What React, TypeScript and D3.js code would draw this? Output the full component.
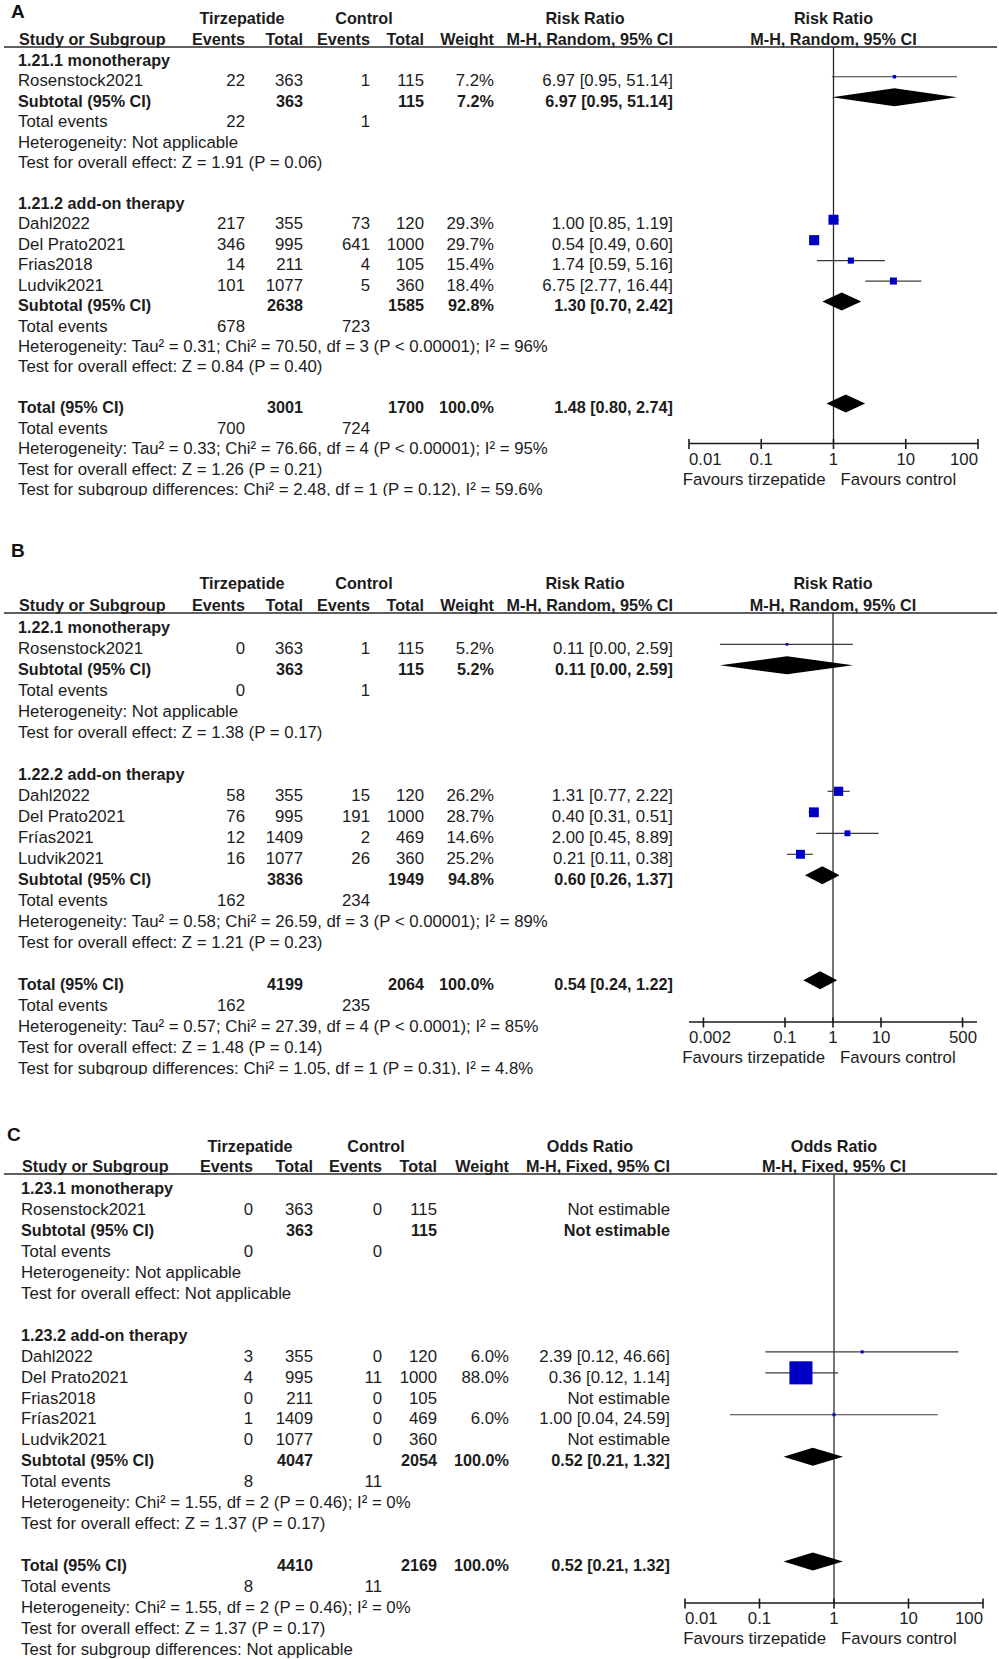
import React from "react";
import * as d3 from "d3";

// ================= Panel A : Risk Ratio, M-H Random =================
const studiesA = ["Rosenstock2021", "Dahl2022", "Del Prato2021", "Frias2018", "Ludvik2021"];
const groupOfA = [0, 1, 1, 1, 1];
const eventsTirzA = [22, 217, 346, 14, 101];
const totalTirzA = [363, 355, 995, 211, 1077];
const eventsCtrlA = [1, 73, 641, 4, 5];
const totalCtrlA = [115, 120, 1000, 105, 360];
const weightA = [7.2, 29.3, 29.7, 15.4, 18.4];
const estA = [6.97, 1.0, 0.54, 1.74, 6.75];
const lowA = [0.95, 0.85, 0.49, 0.59, 2.77];
const highA = [51.14, 1.19, 0.6, 5.16, 16.44];
const groupsA = ["1.21.1 monotherapy", "1.21.2 add-on therapy"];
const subTotalTirzA = [363, 2638];
const subTotalCtrlA = [115, 1585];
const subWeightA = [7.2, 92.8];
const subEstA = [6.97, 1.3];
const subLowA = [0.95, 0.7];
const subHighA = [51.14, 2.42];
const subEventsTirzA = [22, 678];
const subEventsCtrlA = [1, 723];
const subHetA = [
  "Heterogeneity: Not applicable",
  "Heterogeneity: Tau² = 0.31; Chi² = 70.50, df = 3 (P < 0.00001); I² = 96%",
];
const subTestA = ["Test for overall effect: Z = 1.91 (P = 0.06)", "Test for overall effect: Z = 0.84 (P = 0.40)"];
const totalNA = [3001, 1700];
const totalEventsA = [700, 724];
const totalEffA = [1.48, 0.8, 2.74];
const totalTextA = [
  "Heterogeneity: Tau² = 0.33; Chi² = 76.66, df = 4 (P < 0.00001); I² = 95%",
  "Test for overall effect: Z = 1.26 (P = 0.21)",
  "Test for subgroup differences: Chi² = 2.48, df = 1 (P = 0.12), I² = 59.6%",
];
const ticksA = [0.01, 0.1, 1, 10, 100];
const tickLabelsA = ["0.01", "0.1", "1", "10", "100"];

// ================= Panel B : Risk Ratio, M-H Random =================
const studiesB = ["Rosenstock2021", "Dahl2022", "Del Prato2021", "Frías2021", "Ludvik2021"];
const groupOfB = [0, 1, 1, 1, 1];
const eventsTirzB = [0, 58, 76, 12, 16];
const totalTirzB = [363, 355, 995, 1409, 1077];
const eventsCtrlB = [1, 15, 191, 2, 26];
const totalCtrlB = [115, 120, 1000, 469, 360];
const weightB = [5.2, 26.2, 28.7, 14.6, 25.2];
const estB = [0.11, 1.31, 0.4, 2.0, 0.21];
const lowB = [0.0044, 0.77, 0.31, 0.45, 0.11];
const highB = [2.59, 2.22, 0.51, 8.89, 0.38];
const groupsB = ["1.22.1 monotherapy", "1.22.2 add-on therapy"];
const subTotalTirzB = [363, 3836];
const subTotalCtrlB = [115, 1949];
const subWeightB = [5.2, 94.8];
const subEstB = [0.11, 0.6];
const subLowB = [0.0044, 0.26];
const subHighB = [2.59, 1.37];
const subEventsTirzB = [0, 162];
const subEventsCtrlB = [1, 234];
const subHetB = [
  "Heterogeneity: Not applicable",
  "Heterogeneity: Tau² = 0.58; Chi² = 26.59, df = 3 (P < 0.00001); I² = 89%",
];
const subTestB = ["Test for overall effect: Z = 1.38 (P = 0.17)", "Test for overall effect: Z = 1.21 (P = 0.23)"];
const totalNB = [4199, 2064];
const totalEventsB = [162, 235];
const totalEffB = [0.54, 0.24, 1.22];
const totalTextB = [
  "Heterogeneity: Tau² = 0.57; Chi² = 27.39, df = 4 (P < 0.0001); I² = 85%",
  "Test for overall effect: Z = 1.48 (P = 0.14)",
  "Test for subgroup differences: Chi² = 1.05, df = 1 (P = 0.31), I² = 4.8%",
];
const ticksB = [0.002, 0.1, 1, 10, 500];
const tickLabelsB = ["0.002", "0.1", "1", "10", "500"];

// ================= Panel C : Odds Ratio, M-H Fixed =================
const studiesC = ["Rosenstock2021", "Dahl2022", "Del Prato2021", "Frias2018", "Frías2021", "Ludvik2021"];
const groupOfC = [0, 1, 1, 1, 1, 1];
const eventsTirzC = [0, 3, 4, 0, 1, 0];
const totalTirzC = [363, 355, 995, 211, 1409, 1077];
const eventsCtrlC = [0, 0, 11, 0, 0, 0];
const totalCtrlC = [115, 120, 1000, 105, 469, 360];
const weightC = [null, 6.0, 88.0, null, 6.0, null];
const estC = [null, 2.39, 0.36, null, 1.0, null];
const lowC = [null, 0.12, 0.12, null, 0.04, null];
const highC = [null, 46.66, 1.14, null, 24.59, null];
const groupsC = ["1.23.1 monotherapy", "1.23.2 add-on therapy"];
const subTotalTirzC = [363, 4047];
const subTotalCtrlC = [115, 2054];
const subWeightC = [null, 100.0];
const subEstC = [null, 0.52];
const subLowC = [null, 0.21];
const subHighC = [null, 1.32];
const subEventsTirzC = [0, 8];
const subEventsCtrlC = [0, 11];
const subHetC = ["Heterogeneity: Not applicable", "Heterogeneity: Chi² = 1.55, df = 2 (P = 0.46); I² = 0%"];
const subTestC = ["Test for overall effect: Not applicable", "Test for overall effect: Z = 1.37 (P = 0.17)"];
const totalNC = [4410, 2169];
const totalEventsC = [8, 11];
const totalEffC = [0.52, 0.21, 1.32];
const totalTextC = [
  "Heterogeneity: Chi² = 1.55, df = 2 (P = 0.46); I² = 0%",
  "Test for overall effect: Z = 1.37 (P = 0.17)",
  "Test for subgroup differences: Not applicable",
];
const ticksC = [0.01, 0.1, 1, 10, 100];
const tickLabelsC = ["0.01", "0.1", "1", "10", "100"];

// ================= rendering =================
const FONT = "'Liberation Sans', Arial, Helvetica, sans-serif";
const REG = 16.8;
const BOLD = 16.2;
const TXT = "#1c1c1c";
const BLUE = "#0000c4";

type Row =
  | { k: "group"; text: string }
  | { k: "study"; name: string; evT: number; nT: number; evC: number; nC: number; w: number | null; est: number | null; lo: number | null; hi: number | null }
  | { k: "sub"; label: string; nT: number; nC: number; w: number | null; est: number | null; lo: number | null; hi: number | null }
  | { k: "events"; evT: number; evC: number }
  | { k: "text"; text: string }
  | { k: "blank" };

function buildRows(d: any): Row[] {
  const rows: Row[] = [];
  d.groups.forEach((g: string, gi: number) => {
    rows.push({ k: "group", text: g });
    d.studies.forEach((s: string, i: number) => {
      if (d.groupOf[i] !== gi) return;
      rows.push({ k: "study", name: s, evT: d.evT[i], nT: d.nT[i], evC: d.evC[i], nC: d.nC[i], w: d.w[i], est: d.est[i], lo: d.lo[i], hi: d.hi[i] });
    });
    rows.push({ k: "sub", label: "Subtotal (95% CI)", nT: d.subNT[gi], nC: d.subNC[gi], w: d.subW[gi], est: d.subEst[gi], lo: d.subLo[gi], hi: d.subHi[gi] });
    rows.push({ k: "events", evT: d.subEvT[gi], evC: d.subEvC[gi] });
    rows.push({ k: "text", text: d.subHet[gi] });
    rows.push({ k: "text", text: d.subTest[gi] });
    rows.push({ k: "blank" });
  });
  rows.push({ k: "sub", label: "Total (95% CI)", nT: d.totN[0], nC: d.totN[1], w: 100, est: d.totEff[0], lo: d.totEff[1], hi: d.totEff[2] });
  rows.push({ k: "events", evT: d.totEv[0], evC: d.totEv[1] });
  d.totText.forEach((t: string) => rows.push({ k: "text", text: t }));
  return rows;
}

const fmtCI = (e: number, l: number, h: number) => `${e.toFixed(2)} [${l.toFixed(2)}, ${h.toFixed(2)}]`;
const sizeScale = d3.scalePow().exponent(0.76).domain([0, 29.3]).range([0, 10]);

function Panel(p: any) {
  const rows = buildRows(p.data);
  const x = d3.scaleLog().domain(p.domain).range(p.range);
  const c = p.cols;
  const base = (i: number) => p.row0 + i * p.rowH;
  const x1 = x(1);
  const T = (props: any) => (
    <text fontFamily={FONT} fill={TXT} fontSize={props.bold ? BOLD : REG} fontWeight={props.bold ? "bold" : "normal"} x={props.x} y={props.y} textAnchor={props.anchor || "start"}>
      {props.children}
    </text>
  );
  const els: any[] = [];
  rows.forEach((r, i) => {
    const y = base(i);
    const my = y - 9.7;
    if (r.k === "group") {
      els.push(<T key={"g" + i} bold x={c.name} y={y}>{r.text}</T>);
    } else if (r.k === "study") {
      els.push(<T key={"n" + i} x={c.name} y={y}>{r.name}</T>);
      els.push(<T key={"a" + i} x={c.evT} y={y} anchor="end">{r.evT}</T>);
      els.push(<T key={"b" + i} x={c.nT} y={y} anchor="end">{r.nT}</T>);
      els.push(<T key={"c" + i} x={c.evC} y={y} anchor="end">{r.evC}</T>);
      els.push(<T key={"d" + i} x={c.nC} y={y} anchor="end">{r.nC}</T>);
      if (r.w != null) els.push(<T key={"w" + i} x={c.w} y={y} anchor="end">{r.w.toFixed(1) + "%"}</T>);
      if (r.est != null && r.lo != null && r.hi != null) {
        els.push(<T key={"ci" + i} x={c.ci} y={y} anchor="end">{fmtCI(r.est, r.lo, r.hi)}</T>);
        const s = Math.max(2.5, sizeScale(r.w || 0));
        els.push(<line key={"l" + i} x1={x(r.lo)} x2={x(r.hi)} y1={my} y2={my} stroke="#3a3a3a" strokeWidth={1.2} />);
        els.push(<rect key={"s" + i} x={x(r.est) - s / 2} y={my - s / 2} width={s} height={s} fill={BLUE} />);
      } else {
        els.push(<T key={"ci" + i} x={c.ci} y={y} anchor="end">Not estimable</T>);
      }
    } else if (r.k === "sub") {
      els.push(<T key={"n" + i} bold x={c.name} y={y}>{r.label}</T>);
      els.push(<T key={"b" + i} bold x={c.nT} y={y} anchor="end">{r.nT}</T>);
      els.push(<T key={"d" + i} bold x={c.nC} y={y} anchor="end">{r.nC}</T>);
      if (r.w != null) els.push(<T key={"w" + i} bold x={c.w} y={y} anchor="end">{r.w.toFixed(1) + "%"}</T>);
      if (r.est != null && r.lo != null && r.hi != null) {
        els.push(<T key={"ci" + i} bold x={c.ci} y={y} anchor="end">{fmtCI(r.est, r.lo, r.hi)}</T>);
        const pts = [[x(r.lo), my], [x(r.est), my - 9], [x(r.hi), my], [x(r.est), my + 9]];
        els.push(<polygon key={"dm" + i} points={pts.map((q) => q.join(",")).join(" ")} fill="#000" />);
      } else {
        els.push(<T key={"ci" + i} bold x={c.ci} y={y} anchor="end">Not estimable</T>);
      }
    } else if (r.k === "events") {
      els.push(<T key={"n" + i} x={c.name} y={y}>Total events</T>);
      els.push(<T key={"a" + i} x={c.evT} y={y} anchor="end">{r.evT}</T>);
      els.push(<T key={"c" + i} x={c.evC} y={y} anchor="end">{r.evC}</T>);
    } else if (r.k === "text") {
      els.push(<T key={"t" + i} x={c.name} y={y}>{r.text}</T>);
    }
  });

  const r0 = p.range[0];
  const r1 = p.range[1];
  return (
    <g clipPath={`url(#clip${p.letter})`}>
      <text fontFamily={FONT} fontWeight="bold" fontSize={19} fill="#111" x={p.letterX} y={p.letterY}>{p.letter}</text>
      {/* header row 1 */}
      <T bold x={c.tirz} y={p.h1} anchor="middle">Tirzepatide</T>
      <T bold x={c.ctrl} y={p.h1} anchor="middle">Control</T>
      <T bold x={c.lhead} y={p.h1} anchor="middle">{p.measure}</T>
      <T bold x={x1} y={p.h1} anchor="middle">{p.measure}</T>
      {/* header row 2 */}
      <T bold x={c.name + 1} y={p.h2}>Study or Subgroup</T>
      <T bold x={c.evT} y={p.h2} anchor="end">Events</T>
      <T bold x={c.nT} y={p.h2} anchor="end">Total</T>
      <T bold x={c.evC} y={p.h2} anchor="end">Events</T>
      <T bold x={c.nC} y={p.h2} anchor="end">Total</T>
      <T bold x={c.w} y={p.h2} anchor="end">Weight</T>
      <T bold x={c.ci} y={p.h2} anchor="end">{p.method}</T>
      <T bold x={x1} y={p.h2} anchor="middle">{p.method}</T>
      <line x1={4} x2={997} y1={p.lineY} y2={p.lineY} stroke="#2a2a2a" strokeWidth={1.6} />
      {/* null line */}
      <line x1={x1} x2={x1} y1={p.lineY} y2={p.axisY} stroke="#2a2a2a" strokeWidth={1.3} />
      {els}
      {/* axis */}
      <line x1={r0} x2={r1} y1={p.axisY} y2={p.axisY} stroke="#1a1a1a" strokeWidth={1.6} />
      {p.ticks.map((t: number, i: number) => (
        <line key={"tk" + i} x1={x(t)} x2={x(t)} y1={p.axisY - 4.5} y2={p.axisY + 5.5} stroke="#1a1a1a" strokeWidth={1.6} />
      ))}
      {p.ticks.map((t: number, i: number) => {
        const first = i === 0;
        const last = i === p.ticks.length - 1;
        return (
          <T key={"tl" + i} x={first ? r0 : last ? r1 : x(t)} y={p.axisY + 21} anchor={first ? "start" : last ? "end" : "middle"}>
            {p.tickLabels[i]}
          </T>
        );
      })}
      <T x={x1 - 8} y={p.axisY + 41} anchor="end">Favours tirzepatide</T>
      <T x={x1 + 7} y={p.axisY + 41}>Favours control</T>
    </g>
  );
}

const dataA = {
  studies: studiesA, groupOf: groupOfA, evT: eventsTirzA, nT: totalTirzA, evC: eventsCtrlA, nC: totalCtrlA,
  w: weightA, est: estA, lo: lowA, hi: highA, groups: groupsA, subNT: subTotalTirzA, subNC: subTotalCtrlA,
  subW: subWeightA, subEst: subEstA, subLo: subLowA, subHi: subHighA, subEvT: subEventsTirzA, subEvC: subEventsCtrlA,
  subHet: subHetA, subTest: subTestA, totN: totalNA, totEv: totalEventsA, totEff: totalEffA, totText: totalTextA,
};
const dataB = {
  studies: studiesB, groupOf: groupOfB, evT: eventsTirzB, nT: totalTirzB, evC: eventsCtrlB, nC: totalCtrlB,
  w: weightB, est: estB, lo: lowB, hi: highB, groups: groupsB, subNT: subTotalTirzB, subNC: subTotalCtrlB,
  subW: subWeightB, subEst: subEstB, subLo: subLowB, subHi: subHighB, subEvT: subEventsTirzB, subEvC: subEventsCtrlB,
  subHet: subHetB, subTest: subTestB, totN: totalNB, totEv: totalEventsB, totEff: totalEffB, totText: totalTextB,
};
const dataC = {
  studies: studiesC, groupOf: groupOfC, evT: eventsTirzC, nT: totalTirzC, evC: eventsCtrlC, nC: totalCtrlC,
  w: weightC, est: estC, lo: lowC, hi: highC, groups: groupsC, subNT: subTotalTirzC, subNC: subTotalCtrlC,
  subW: subWeightC, subEst: subEstC, subLo: subLowC, subHi: subHighC, subEvT: subEventsTirzC, subEvC: subEventsCtrlC,
  subHet: subHetC, subTest: subTestC, totN: totalNC, totEv: totalEventsC, totEff: totalEffC, totText: totalTextC,
};

const colsAB = { name: 18, evT: 245, nT: 303, evC: 370, nC: 424, w: 494, ci: 673, tirz: 242, ctrl: 364, lhead: 585 };
const colsC = { name: 21, evT: 253, nT: 313, evC: 382, nC: 437, w: 509, ci: 670, tirz: 250, ctrl: 376, lhead: 590 };

export default function App() {
  return (
    <div style={{ position: "absolute", left: 0, top: 0 }}>
      <svg width={999} height={1659} viewBox="0 0 999 1659" style={{ display: "block", background: "#fff" }}>
        <defs>
          <clipPath id="clipA"><rect x={0} y={0} width={999} height={496} /></clipPath>
          <clipPath id="clipB"><rect x={0} y={500} width={999} height={575} /></clipPath>
          <clipPath id="clipC"><rect x={0} y={1100} width={999} height={559} /></clipPath>
        </defs>
        <rect x={0} y={0} width={999} height={1659} fill="#fff" />
        <Panel letter="A" letterX={11} letterY={18} data={dataA} cols={colsAB} measure="Risk Ratio" method="M-H, Random, 95% CI"
          h1={24} h2={44.5} lineY={47} row0={66} rowH={20.43} axisY={443.5}
          domain={[0.01, 100]} range={[689, 978]} ticks={ticksA} tickLabels={tickLabelsA} />
        <Panel letter="B" letterX={11} letterY={557} data={dataB} cols={colsAB} measure="Risk Ratio" method="M-H, Random, 95% CI"
          h1={589} h2={610.5} lineY={613} row0={633} rowH={21.0} axisY={1022}
          domain={[0.001, 1000]} range={[689, 977]} ticks={ticksB} tickLabels={tickLabelsB} />
        <Panel letter="C" letterX={7} letterY={1141} data={dataC} cols={colsC} measure="Odds Ratio" method="M-H, Fixed, 95% CI"
          h1={1152} h2={1171.5} lineY={1174} row0={1194} rowH={20.95} axisY={1603}
          domain={[0.01, 100]} range={[685, 983]} ticks={ticksC} tickLabels={tickLabelsC} />
      </svg>
    </div>
  );
}
